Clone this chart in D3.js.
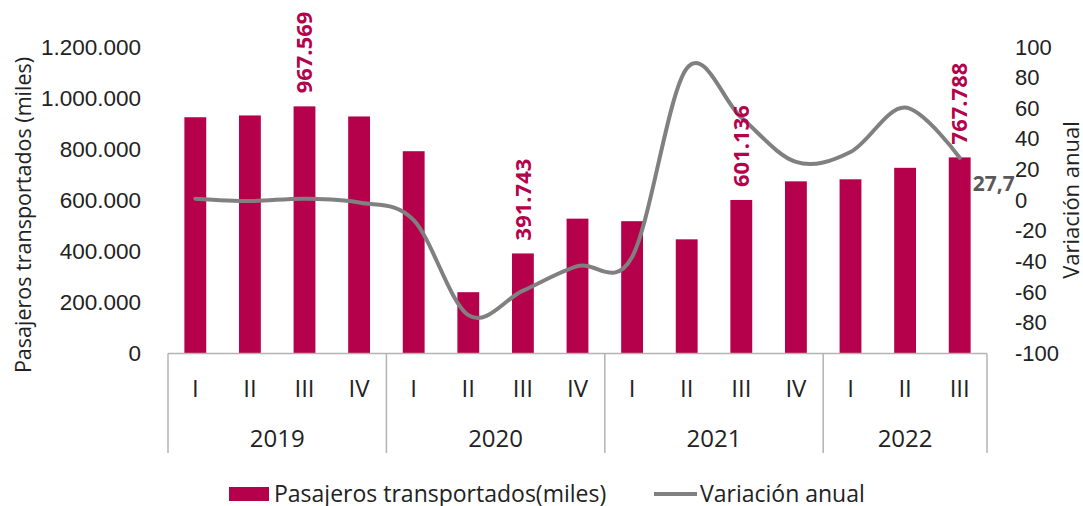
<!DOCTYPE html>
<html>
<head>
<meta charset="utf-8">
<script src="https://cdn.jsdelivr.net/npm/d3@7"></script>
<style>
  body { margin: 0; background: #fff; }
  svg { font-family: "Open Sans", "Noto Sans", sans-serif; }
</style>
</head>
<body>
<svg class="chart" width="1083" height="506"></svg>
<script>
var trimestres = ["I","II","III","IV","I","II","III","IV","I","II","III","IV","I","II","III"];
var anioCat = ["2019","2019","2019","2019","2020","2020","2020","2020","2021","2021","2021","2021","2022","2022","2022"];
var anios = ["2019","2020","2021","2022"];
var pasajeros = [925000, 932000, 967569, 928000, 792000, 240000, 391743, 528000, 518000, 447000, 601136, 674000, 682000, 727000, 767788];
var variacion = [1, -0.5, 1, -1.5, -13, -75, -59, -43, -37, 86, 54, 25, 31.5, 60.5, 27.7];
var etiquetas = [2, 6, 10, 14];
var ticksIzq = [0, 200000, 400000, 600000, 800000, 1000000, 1200000];
var ticksDer = [-100, -80, -60, -40, -20, 0, 20, 40, 60, 80, 100];

var barColor = "#b5004b";
var lineColor = "#808080";
var axisColor = "#b3b3b3";

var svg = d3.select(".chart");
var left = 168, right = 987, topY = 47, base = 353.5;

var idx = d3.range(trimestres.length);
var x = d3.scaleBand().domain(idx).range([left, right]).padding(0);
var yL = d3.scaleLinear().domain([0, 1200000]).range([base, topY]);
var yR = d3.scaleLinear().domain([-100, 100]).range([base, topY]);

var loc = d3.formatLocale({decimal: ",", thousands: ".", grouping: [3], currency: ["", ""], minus: "-"});

// left axis
var gL = svg.append("g")
  .attr("transform", "translate(" + (left - 27) + ",0)")
  .call(d3.axisLeft(yL).tickValues(ticksIzq).tickSize(0).tickPadding(0).tickFormat(loc.format(",")));
gL.select(".domain").remove();
gL.selectAll("text").attr("font-size", 22.5).attr("fill", "#222").attr("font-family", null);

// right axis
var gR = svg.append("g")
  .attr("transform", "translate(" + (right + 28) + ",0)")
  .call(d3.axisRight(yR).tickValues(ticksDer).tickSize(0).tickPadding(0).tickFormat(loc.format("d")));
gR.select(".domain").remove();
gR.selectAll("text").attr("font-size", 22).attr("fill", "#222").attr("font-family", null);

// axis titles
svg.append("text")
  .attr("transform", "translate(23,215) rotate(-90)")
  .attr("text-anchor", "middle")
  .attr("dy", "0.35em")
  .attr("font-size", 21.5)
  .attr("fill", "#222")
  .text("Pasajeros transportados (miles)");

svg.append("text")
  .attr("transform", "translate(1071,200) rotate(-90)")
  .attr("text-anchor", "middle")
  .attr("dy", "0.35em")
  .attr("font-size", 22)
  .attr("fill", "#222")
  .text("Variación anual");

// bars
var bw = x.bandwidth() * 0.4;
svg.append("g").selectAll("rect")
  .data(pasajeros)
  .enter().append("rect")
    .attr("x", function(d, i) { return x(i) + (x.bandwidth() - bw) / 2; })
    .attr("width", bw)
    .attr("y", function(d) { return yL(d); })
    .attr("height", function(d) { return base - yL(d); })
    .attr("fill", barColor);

// category axis
var cat = svg.append("g").attr("stroke", axisColor).attr("stroke-width", 1.5);
cat.append("line")
  .attr("x1", left).attr("x2", right)
  .attr("y1", base).attr("y2", base);

var bordes = [0];
anios.forEach(function(a) {
  bordes.push(bordes[bordes.length - 1] + anioCat.filter(function(c) { return c === a; }).length);
});
cat.selectAll(".sep")
  .data(bordes)
  .enter().append("line")
    .attr("class", "sep")
    .attr("x1", function(d) { return d < idx.length ? x(d) : right; })
    .attr("x2", function(d) { return d < idx.length ? x(d) : right; })
    .attr("y1", base).attr("y2", 453);

svg.append("g").selectAll("text")
  .data(trimestres)
  .enter().append("text")
    .attr("x", function(d, i) { return x(i) + x.bandwidth() / 2; })
    .attr("y", 388.5)
    .attr("dy", "0.35em")
    .attr("text-anchor", "middle")
    .attr("font-size", 24)
    .attr("fill", "#222")
    .text(function(d) { return d; });

svg.append("g").selectAll("text")
  .data(anios)
  .enter().append("text")
    .attr("x", function(d, i) {
      var a = bordes[i], b = bordes[i + 1];
      var xa = x(a), xb = b < idx.length ? x(b) : right;
      return (xa + xb) / 2;
    })
    .attr("y", 438.5)
    .attr("dy", "0.35em")
    .attr("text-anchor", "middle")
    .attr("font-size", 24)
    .attr("fill", "#222")
    .text(function(d) { return d; });

// line
var line = d3.line()
  .x(function(d, i) { return x(i) + x.bandwidth() / 2; })
  .y(function(d) { return yR(d); })
  .curve(d3.curveCardinal.tension(0));

svg.append("path")
  .datum(variacion)
  .attr("d", line)
  .attr("fill", "none")
  .attr("stroke", lineColor)
  .attr("stroke-width", 4)
  .attr("stroke-linecap", "round");

// bar labels
svg.append("g").selectAll("text")
  .data(etiquetas)
  .enter().append("text")
    .attr("transform", function(i) {
      return "translate(" + (x(i) + x.bandwidth() / 2) + "," + (yL(pasajeros[i]) - 13) + ") rotate(-90)";
    })
    .attr("dy", "0.35em")
    .attr("text-anchor", "start")
    .attr("font-size", 22)
    .attr("font-weight", "bold")
    .attr("fill", barColor)
    .text(function(i) { return loc.format(",")(pasajeros[i]); });

// last value of the line
var ult = variacion.length - 1;
svg.append("text")
  .attr("x", x(ult) + x.bandwidth() / 2 + 13)
  .attr("y", yR(variacion[ult]) + 26)
  .attr("dy", "0.35em")
  .attr("font-size", 21)
  .attr("font-weight", "bold")
  .attr("fill", "#595959")
  .text(loc.format(",.1f")(variacion[ult]));

// legend
var leg = svg.append("g");
leg.append("rect")
  .attr("x", 229).attr("y", 487).attr("width", 40).attr("height", 14)
  .attr("fill", barColor);
leg.append("text")
  .attr("x", 274).attr("y", 494).attr("dy", "0.35em")
  .attr("font-size", 23).attr("fill", "#222")
  .text("Pasajeros transportados(miles)");
leg.append("line")
  .attr("x1", 654).attr("x2", 697).attr("y1", 494).attr("y2", 494)
  .attr("stroke", lineColor).attr("stroke-width", 4);
leg.append("text")
  .attr("x", 700).attr("y", 494).attr("dy", "0.35em")
  .attr("font-size", 23).attr("fill", "#222")
  .text("Variación anual");
</script>
</body>
</html>
